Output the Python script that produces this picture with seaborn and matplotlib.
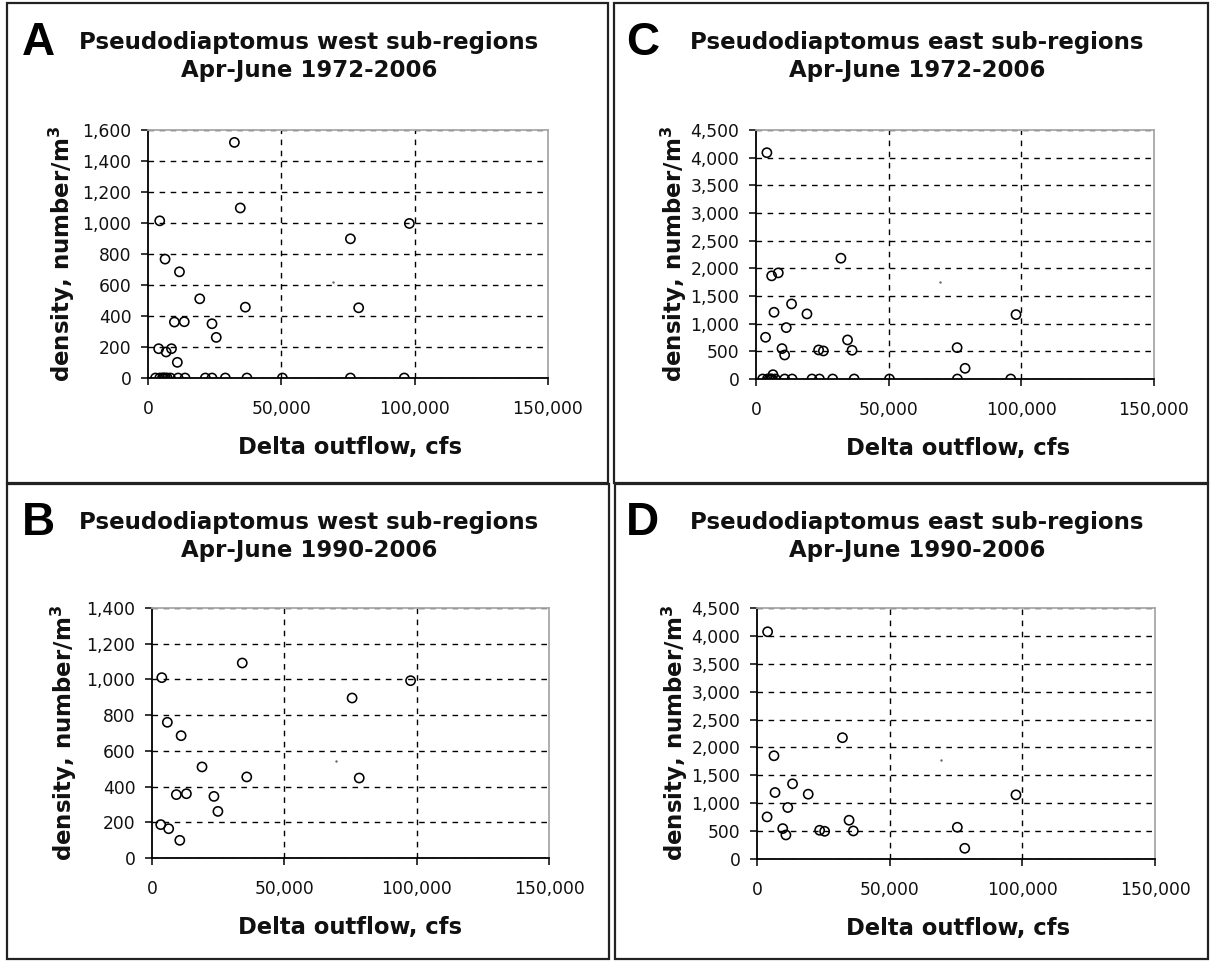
import matplotlib
matplotlib.use("Agg")
import matplotlib.pyplot as plt
import seaborn as sns
import pandas as pd
from matplotlib.ticker import FuncFormatter, MultipleLocator
from matplotlib.patches import Rectangle

sns.set_style("ticks")
plt.rcParams['font.family'] = ['DejaVu Sans']

# ---------------- data (flow in cfs, density number/m^3) ----------------
# A: west sub-regions, Apr-June 1972-2006
west_7206_flow = [32400, 34600, 4400, 98000, 75900, 6400, 11800, 19400, 36500, 79000,
                  9900, 13600, 24000, 25600, 4000, 8800, 6800, 11000,
                  2800, 4400, 5400, 5900, 6500, 7200, 8400, 11300, 13900, 21500,
                  24000, 29000, 37100, 50400, 75900, 96100]
west_7206_density = [1520, 1097, 1014, 997, 898, 767, 685, 511, 457, 453,
                     361, 363, 350, 262, 189, 189, 168, 101,
                     0, 0, 0, 0, 0, 0, 0, 0, 0, 0,
                     0, 0, 0, 0, 0, 0]
# B: west sub-regions, Apr-June 1990-2006
west_9006_flow = [34100, 3700, 97700, 75600, 5800, 11000, 18900, 35800, 78300,
                  9200, 13000, 23400, 24900, 3300, 6300, 10500]
west_9006_density = [1092, 1010, 993, 896, 760, 685, 510, 454, 448,
                     355, 360, 345, 261, 187, 164, 99]
# C: east sub-regions, Apr-June 1972-2006
east_7206_flow = [4100, 32000, 5900, 8400, 13400, 6800, 19200, 98000, 11400, 3600,
                  34500, 9800, 23600, 25400, 36200, 10800, 75800, 78800, 6400,
                  2500, 4300, 5000, 5500, 6000, 7300, 10800, 13600, 21100, 23900,
                  28900, 37000, 50300, 75900, 96000]
east_7206_density = [4090, 2183, 1864, 1918, 1357, 1206, 1176, 1164, 929, 754,
                     706, 549, 525, 507, 519, 434, 567, 193, 78,
                     0, 0, 0, 0, 0, 0, 0, 0, 0, 0,
                     0, 0, 0, 0, 0]
# D: east sub-regions, Apr-June 1990-2006
east_9006_flow = [4000, 32200, 6400, 13400, 6800, 19300, 97600, 11600, 3800, 34700,
                  9700, 10900, 23600, 25500, 36300, 75500, 78300]
east_9006_density = [4074, 2175, 1851, 1348, 1192, 1162, 1150, 923, 755, 695,
                     545, 431, 515, 497, 503, 569, 192]

# faint specks visible in the source
speck_flow = [69400, 69500, 69500, 69200]
speck_density = [619, 541, 1755, 1767]

panel_letters = ["A", "B", "C", "D"]
panel_titles = ["Pseudodiaptomus west sub-regions\nApr-June 1972-2006",
                "Pseudodiaptomus west sub-regions\nApr-June 1990-2006",
                "Pseudodiaptomus east sub-regions\nApr-June 1972-2006",
                "Pseudodiaptomus east sub-regions\nApr-June 1990-2006"]
y_max = [1600, 1400, 4500, 4500]
y_step = [200, 200, 500, 500]
x_ticks = [0, 50000, 100000, 150000]
x_label = "Delta outflow, cfs"
y_label = "density, number/m$^\\mathbf{3}$"

series = [(west_7206_flow, west_7206_density),
          (west_9006_flow, west_9006_density),
          (east_7206_flow, east_7206_density),
          (east_9006_flow, east_9006_density)]

# ---------------- layout (pixels) ----------------
W, H = 1211, 961
fig = plt.figure(figsize=(W / 100, H / 100), dpi=100)
fig.patch.set_facecolor("white")

axes_px = [(148, 130, 548, 378), (152, 608, 549, 858),
           (756, 130, 1154, 379), (757, 608, 1155, 859)]
box_px = [(7, 3, 608, 483), (7, 484, 609, 959),
          (614, 3, 1208, 483), (615, 484, 1208, 959)]
title_cx = [309, 309, 917, 917]
title_top = [31, 511, 31, 511]
letter_x = [22, 22, 626, 626]
letter_top = [21, 501, 21, 501]
xlabel_cx = [350, 350, 958, 958]
xlabel_top_off = 58          # px below axis bottom
ylabel_right = [77, 79, 689, 690]


def fx(px):
    return px / W


def fy(py):
    return 1 - py / H


fmt = FuncFormatter(lambda v, p: f"{v:,.0f}")

for i in range(4):
    l, t, r, b = axes_px[i]
    ax = fig.add_axes([fx(l), fy(b), (r - l) / W, (b - t) / H])
    flow, dens = series[i]
    df = pd.DataFrame({"flow": flow, "density": dens})
    sns.scatterplot(data=df, x="flow", y="density", ax=ax, marker="o", s=44,
                    facecolor="none", edgecolor="black", linewidth=1.15, zorder=3)
    sdf = pd.DataFrame({"flow": [speck_flow[i]], "density": [speck_density[i]]})
    sns.scatterplot(data=sdf, x="flow", y="density", ax=ax, marker="o", s=3,
                    color="#666666", linewidth=0, zorder=3)

    ax.set_xlim(0, 150000)
    ax.set_ylim(0, y_max[i])
    ax.set_xticks(x_ticks)
    ax.yaxis.set_major_locator(MultipleLocator(y_step[i]))
    ax.xaxis.set_major_formatter(fmt)
    ax.yaxis.set_major_formatter(fmt)
    ax.tick_params(axis="both", direction="out", length=5, width=1.1,
                   color="black", labelsize=12.3, labelcolor="#111111")
    ax.tick_params(axis="x", pad=11)
    ax.tick_params(axis="y", pad=7)

    ax.grid(True, color="black", linestyle=(0, (4, 4)), linewidth=1.0)
    ax.set_axisbelow(True)
    xg = ax.get_xgridlines()
    yg = ax.get_ygridlines()
    xg[0].set_visible(False)
    xg[-1].set_visible(False)
    yg[0].set_visible(False)
    yg[-1].set_visible(False)

    for side in ["left", "bottom"]:
        ax.spines[side].set_color("black")
        ax.spines[side].set_linewidth(1.3)
    for side in ["top", "right"]:
        ax.spines[side].set_visible(True)
        ax.spines[side].set_color("#a8a8a8")
        ax.spines[side].set_linewidth(1.3)

    ax.set_xlabel(x_label, fontsize=16.3, fontweight="bold", color="#111111")
    ax.set_ylabel(y_label, fontsize=16.5, fontweight="bold", color="#111111")
    ax.xaxis.set_label_coords((xlabel_cx[i] - l) / (r - l), -xlabel_top_off / (b - t))
    ax.yaxis.set_label_coords((ylabel_right[i] - l) / (r - l), 0.5)

    # box
    bl, bt, br, bb = box_px[i]
    fig.patches.append(Rectangle((fx(bl), fy(bb)), (br - bl) / W, (bb - bt) / H,
                                 transform=fig.transFigure, fill=False,
                                 edgecolor="#222222", linewidth=1.6))
    # titles
    fig.text(fx(title_cx[i]), fy(title_top[i]), panel_titles[i], ha="center", va="top",
             fontsize=16.5, fontweight="bold", color="#111111", linespacing=1.3)
    fig.text(fx(letter_x[i]), fy(letter_top[i]), panel_letters[i], ha="left", va="top",
             fontsize=33, fontweight="bold", family="Liberation Sans", color="black")

fig.savefig("out.png", dpi=100, facecolor="white")
